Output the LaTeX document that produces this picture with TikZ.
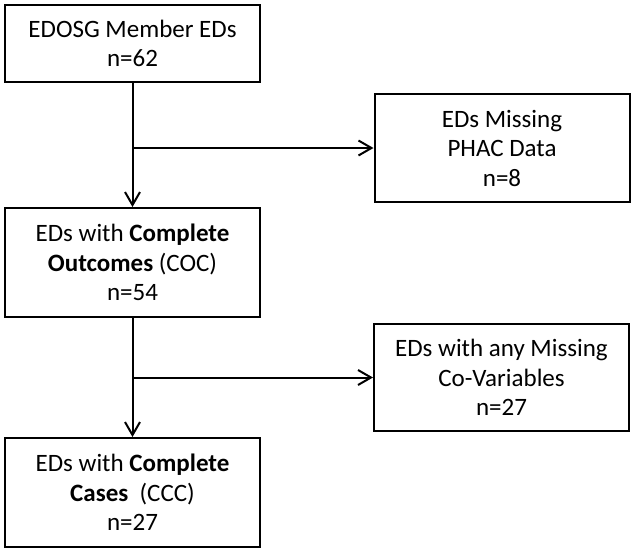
\documentclass[tikz,border=0pt]{standalone}
\usepackage{fontspec}
\setmainfont{Carlito}
\usepackage{tikz}
\usetikzlibrary{arrows.meta,positioning}

\tikzset{
  box/.style={draw, line width=2pt, minimum width=255pt, align=center,
    font=\fontsize{25}{29.5}\selectfont, inner sep=0pt},
  flow/.style={line width=2pt, -{Straight Barb[length=13pt,width=15pt,line width=2pt]}}
}

\begin{document}
\begin{tikzpicture}[x=1pt,y=-1pt]
\useasboundingbox (0,0) rectangle (635,552);
\node[box, minimum height=77pt] (edosg) at (132.5,43.5) {EDOSG Member EDs\\n=62};
\node[box, minimum height=108pt] (phac) at (502,148) {EDs Missing\\PHAC Data\\n=8};
\node[box, minimum height=109pt] (coc) at (132.5,262.5) {EDs with \textbf{Complete}\\\textbf{Outcomes} (COC)\\n=54};
\node[box, minimum height=107pt] (covar) at (501.5,377.5) {EDs with any Missing\\Co-Variables\\n=27};
\node[box, minimum height=109pt] (ccc) at (132.5,492.5) {EDs with \textbf{Complete}\\\textbf{Cases}~ (CCC)\\n=27};
% branch points on the main line
\coordinate (split1) at (edosg.south |- phac.west);
\coordinate (split2) at (coc.south |- covar.west);
\draw[flow] (edosg) -- (coc);
\draw[flow] (split1) -- (phac);
\draw[flow] (coc) -- (ccc);
\draw[flow] (split2) -- (covar);
\end{tikzpicture}
\end{document}
